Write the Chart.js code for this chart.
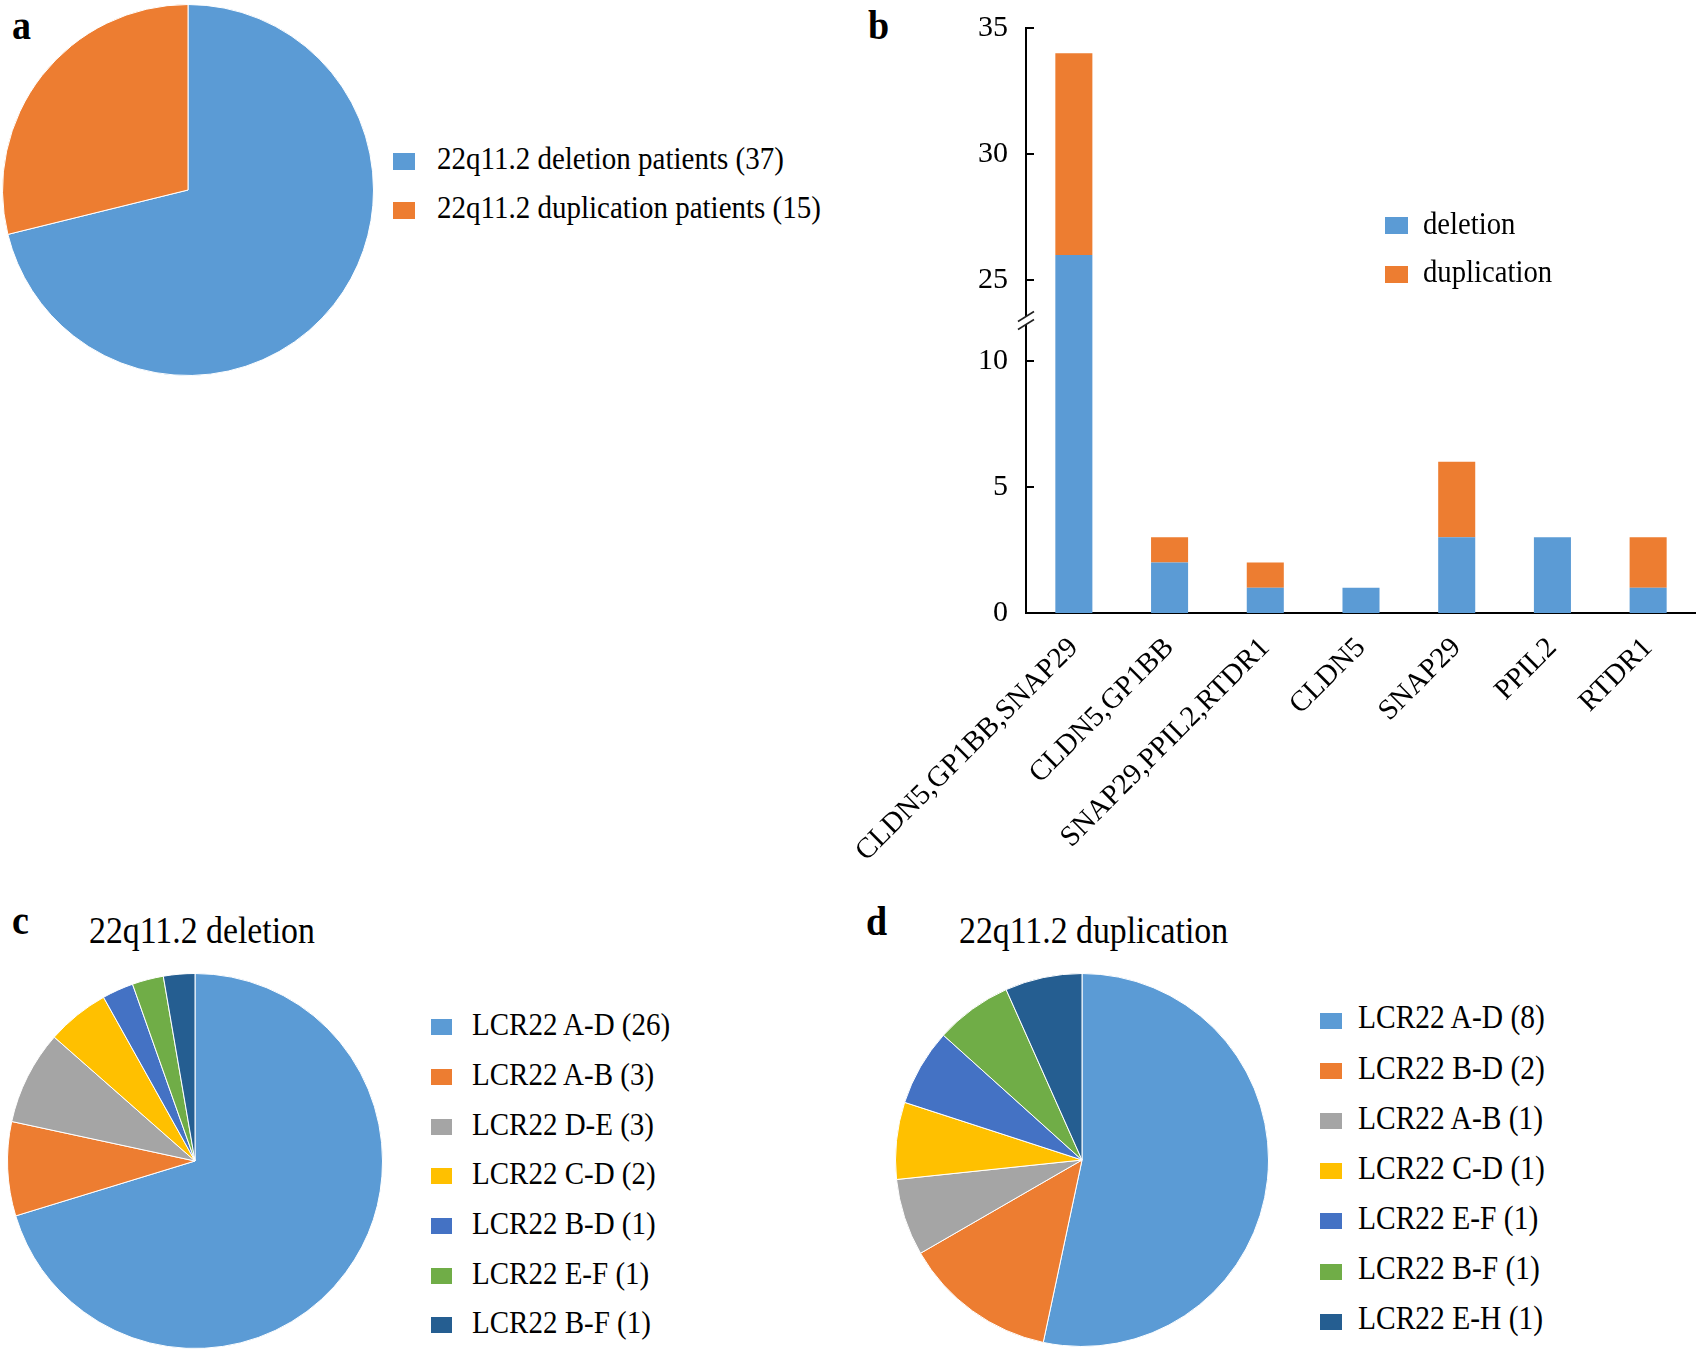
<!DOCTYPE html>
<html>
<head>
<meta charset="utf-8">
<script src="https://cdn.jsdelivr.net/npm/chart.js@4"></script>
<style>
  body { margin: 0; width: 1696px; height: 1354px; background: #fff; position: relative; overflow: hidden;
         font-family: "Liberation Serif", "Times New Roman", serif; color: #000; }
  canvas, .txt, .legend { position: absolute; }
  .txt { line-height: 1; white-space: nowrap; transform: scaleY(1.12); transform-origin: 0 84%; }
  .panel { font-weight: bold; font-size: 38px; }
  .title { font-size: 33.8px; }
  .legend .row { display: flex; align-items: center; white-space: nowrap; }
  .legend .box { flex: none; margin-top: 5px; }
  .legend .label { line-height: 1; transform: scaleY(1.12); }
</style>
</head>
<body>
<div class="txt panel" style="left:12px;top:7px">a</div>
<div class="txt panel" style="left:868px;top:7px">b</div>
<div class="txt panel" style="left:12px;top:902px">c</div>
<div class="txt panel" style="left:866px;top:903px">d</div>
<div class="txt title" style="left:89px;top:915px">22q11.2 deletion</div>
<div class="txt title" style="left:959px;top:915px">22q11.2 duplication</div>

<canvas id="pieA" width="372" height="372" style="left:2px;top:4px"></canvas>
<canvas id="bars" width="846" height="900" style="left:850px;top:0px"></canvas>
<canvas id="pieC" width="376" height="376" style="left:7px;top:973px"></canvas>
<canvas id="pieD" width="374" height="374" style="left:895px;top:973px"></canvas>

<div class="legend" id="legA"></div>
<div class="legend" id="legB"></div>
<div class="legend" id="legC"></div>
<div class="legend" id="legD"></div>

<script>
// panel a
const patientGroups = ['22q11.2 deletion patients', '22q11.2 duplication patients'];
const patientCounts = [37, 15];

// panel b
const geneLabels = ['CLDN5,GP1BB,SNAP29', 'CLDN5,GP1BB', 'SNAP29,PPIL2,RTDR1', 'CLDN5', 'SNAP29', 'PPIL2', 'RTDR1'];
const deletionCounts = [26, 2, 1, 1, 3, 3, 1];
const duplicationCounts = [8, 1, 1, 0, 3, 0, 2];
const yTicks = [0, 5, 10, 25, 30, 35];
const yBreak = [11.6, 23.4]; // values between these are cut out of the axis

// panel c
const deletionTypes = ['LCR22 A-D', 'LCR22 A-B', 'LCR22 D-E', 'LCR22 C-D', 'LCR22 B-D', 'LCR22 E-F', 'LCR22 B-F'];
const deletionTypeCounts = [26, 3, 3, 2, 1, 1, 1];

// panel d
const duplicationTypes = ['LCR22 A-D', 'LCR22 B-D', 'LCR22 A-B', 'LCR22 C-D', 'LCR22 E-F', 'LCR22 B-F', 'LCR22 E-H'];
const duplicationTypeCounts = [8, 2, 1, 1, 1, 1, 1];

const palette = ['#5B9BD5', '#ED7D31', '#A5A5A5', '#FFC000', '#4472C4', '#70AD47', '#255E91'];

Chart.defaults.font.family = '"Liberation Serif", "Times New Roman", serif';
Chart.defaults.color = '#000';

// linear scale with a section cut out between yBreak[0] and yBreak[1]
class BrokenScale extends Chart.LinearScale {
    squash(v) {
        if (v <= yBreak[0]) return v;
        if (v >= yBreak[1]) return v - (yBreak[1] - yBreak[0]);
        return yBreak[0];
    }
    getPixelForValue(value) {
        if (value === null || isNaN(value)) return NaN;
        const lo = this.squash(this.min), hi = this.squash(this.max);
        return this.getPixelForDecimal((this.squash(value) - lo) / (hi - lo));
    }
    getValueForPixel(pixel) {
        const lo = this.squash(this.min), hi = this.squash(this.max);
        const s = lo + this.getDecimalForPixel(pixel) * (hi - lo);
        return s <= yBreak[0] ? s : s + (yBreak[1] - yBreak[0]);
    }
}
BrokenScale.id = 'brokenLinear';
BrokenScale.defaults = Chart.LinearScale.defaults;
Chart.register(BrokenScale);

// inward tick marks and the "//" mark on the y axis
const axisMarks = {
    id: 'axisMarks',
    afterDraw(chart) {
        const y = chart.scales.y;
        const ctx = chart.ctx;
        const x0 = chart.chartArea.left;
        ctx.save();
        ctx.strokeStyle = '#000';
        ctx.lineWidth = 2;
        y.ticks.forEach((t, i) => {
            const py = Math.round(y.getPixelForTick(i));
            ctx.beginPath();
            ctx.moveTo(x0, py);
            ctx.lineTo(x0 + 8, py);
            ctx.stroke();
        });
        const by = y.getPixelForValue(yBreak[0]);
        ctx.fillStyle = '#fff';
        ctx.fillRect(x0 - 3, by - 4, 6, 8);
        ctx.lineWidth = 1.6;
        ctx.strokeStyle = '#222';
        [-4, 4].forEach(d => {
            ctx.beginPath();
            ctx.moveTo(x0 - 8, by + d + 5);
            ctx.lineTo(x0 + 8, by + d - 5);
            ctx.stroke();
        });
        ctx.restore();
    }
};

function makePie(id, names, counts) {
    return new Chart(document.getElementById(id), {
        type: 'pie',
        data: {
            labels: names.map((n, i) => n + ' (' + counts[i] + ')'),
            datasets: [{
                data: counts,
                backgroundColor: palette.slice(0, counts.length),
                borderColor: '#fff',
                borderWidth: 1
            }]
        },
        options: {
            responsive: false,
            animation: false,
            layout: { padding: 0 },
            plugins: { legend: { display: false }, tooltip: { enabled: false } }
        }
    });
}

function htmlLegend(chart, id, left, top, rowH, boxW, boxH, gap, size) {
    const host = document.getElementById(id);
    host.style.left = left + 'px';
    host.style.top = top + 'px';
    const items = chart.options.plugins.legend.labels.generateLabels(chart);
    items.forEach(item => {
        const row = document.createElement('div');
        row.className = 'row';
        row.style.height = rowH + 'px';
        const box = document.createElement('span');
        box.className = 'box';
        box.style.width = boxW + 'px';
        box.style.height = boxH + 'px';
        box.style.background = item.fillStyle;
        box.style.marginRight = gap + 'px';
        const txt = document.createElement('span');
        txt.className = 'label';
        txt.style.fontSize = size + 'px';
        txt.textContent = item.text;
        row.append(box, txt);
        host.appendChild(row);
    });
}

const pieA = makePie('pieA', patientGroups, patientCounts);
const pieC = makePie('pieC', deletionTypes, deletionTypeCounts);
const pieD = makePie('pieD', duplicationTypes, duplicationTypeCounts);

const bars = new Chart(document.getElementById('bars'), {
    type: 'bar',
    data: {
        labels: geneLabels,
        datasets: [
            { label: 'deletion', data: deletionCounts, backgroundColor: palette[0] },
            { label: 'duplication', data: duplicationCounts, backgroundColor: palette[1] }
        ]
    },
    options: {
        responsive: false,
        animation: false,
        categoryPercentage: 1,
        barPercentage: 0.387,
        layout: { padding: { top: 28, left: 0, right: 0, bottom: 0 } },
        plugins: { legend: { display: false }, tooltip: { enabled: false } },
        scales: {
            x: {
                stacked: true,
                grid: { display: false, drawTicks: false },
                border: { display: true, color: '#000', width: 2 },
                ticks: { autoSkip: false, minRotation: 45, maxRotation: 45, padding: 18, font: { size: 29 } },
                afterFit: s => { s.height = 287; s.paddingLeft = 0; s.paddingRight = 0; }
            },
            y: {
                type: 'brokenLinear',
                stacked: true,
                min: 0,
                max: 35,
                grid: { display: false, drawTicks: false },
                border: { display: true, color: '#000', width: 2 },
                ticks: { padding: 18, font: { size: 30 } },
                afterBuildTicks: s => { s.ticks = yTicks.map(v => ({ value: v })); },
                afterFit: s => { s.width = 176; s.paddingTop = 0; s.paddingBottom = 0; }
            }
        }
    },
    plugins: [axisMarks]
});

htmlLegend(pieA, 'legA', 393, 134, 49, 22, 17, 22, 29);
htmlLegend(bars, 'legB', 1385, 199, 48.5, 23, 17, 15, 28.7);
htmlLegend(pieC, 'legC', 431, 1000, 49.7, 21, 16, 20, 29);
htmlLegend(pieD, 'legD', 1320, 993, 50.2, 22, 16, 16, 29.5);
</script>
</body>
</html>
